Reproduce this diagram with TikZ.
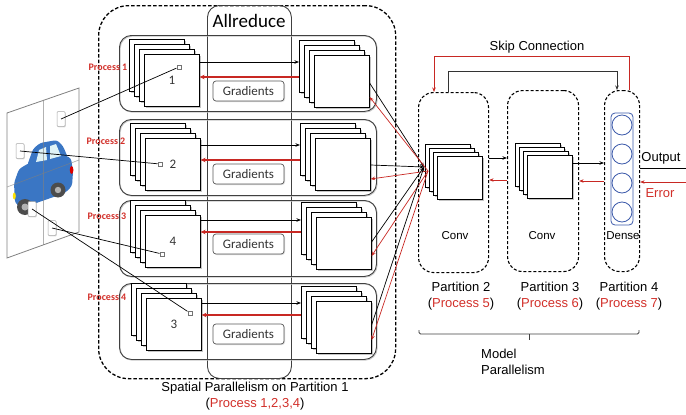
\documentclass[tikz,border=0pt]{standalone}
\usepackage{fontspec}
\setmainfont{Liberation Sans}
\newfontfamily\calibrifont{Carlito}
\usetikzlibrary{arrows.meta,shadows}

\definecolor{myred}{RGB}{200,40,35}
\definecolor{labred}{RGB}{210,48,42}
\definecolor{linegray}{RGB}{64,64,64}
\definecolor{carblue}{RGB}{58,118,196}
\definecolor{winlight}{RGB}{222,242,246}
\definecolor{denseblue}{RGB}{60,90,170}

% stack of four feature-map sheets: name, x, y (front top-left), width, height, step, text
\newcommand{\fmstack}[7]{%
  \foreach \k in {3,2,1}{%
    \node[sheet, minimum width=#4pt, minimum height=#5pt] (#1-\k) at ({#2-\k*#6},{#3-\k*#6}) {};
  }%
  \node[sheet, minimum width=#4pt, minimum height=#5pt] (#1) at (#2,#3) {#7};
}

\begin{document}
\begin{tikzpicture}[x=1pt,y=-1pt,
  sheet/.style={draw=black, fill=white, line width=0.6pt, inner sep=0pt, anchor=north west,
    font=\calibrifont\fontsize{13}{13}\selectfont, text=black!80,
    drop shadow={shadow xshift=1.2pt, shadow yshift=-1.2pt, fill=black!45}},
  rowbox/.style={draw=linegray, line width=0.9pt, rounded corners=12pt, inner sep=0pt, anchor=north west},
  spatialbox/.style={draw=black, line width=1.3pt, dash pattern=on 3.5pt off 2pt, rounded corners=30pt, inner sep=0pt, anchor=north west},
  arbox/.style={draw=linegray, line width=0.9pt, rounded corners=12pt, inner sep=0pt, anchor=north west},
  partbox/.style={draw=black, line width=1.1pt, dash pattern=on 3pt off 2pt, rounded corners=15pt, inner sep=0pt, anchor=north west},
  gradbox/.style={draw=black!65, fill=white, rounded corners=3pt, line width=0.7pt, minimum width=71pt, minimum height=20pt, inner sep=0pt,
    font=\calibrifont\fontsize{13}{13}\selectfont, text=black!80,
    drop shadow={shadow xshift=1pt, shadow yshift=-1pt, fill=black!30}},
  patch/.style={draw=black!35, fill=white, rounded corners=1pt, line width=0.5pt, inner sep=0pt, minimum width=8pt, minimum height=15pt,
    drop shadow={shadow xshift=0.8pt, shadow yshift=-0.8pt, fill=black!25}},
  marker/.style={draw=black!55, fill=white, line width=0.5pt, inner sep=0pt, minimum size=4.5pt,
    drop shadow={shadow xshift=0.7pt, shadow yshift=-0.7pt, fill=black!35}},
  proclabel/.style={font=\calibrifont\bfseries\fontsize{10}{10}\selectfont, text=labred},
  blkarrow/.style={draw=black, line width=0.7pt, -{Stealth[length=4.5pt,width=3.5pt]}},
  redarrow/.style={draw=myred, line width=1.8pt, -{Stealth[length=5pt,width=4.5pt]}},
  fanblk/.style={draw=black, line width=0.7pt, -{Stealth[length=4.5pt,width=3.5pt]}},
  fanred/.style={draw=myred, line width=0.7pt, -{Stealth[length=4.5pt,width=3.5pt]}},
  patchline/.style={draw=black, line width=0.7pt},
  txt/.style={font=\fontsize{13}{16}\selectfont, inner sep=0pt},
]
\useasboundingbox (0,0) rectangle (686,415);

% ---------------- spatial parallelism block ----------------
\node[spatialbox, minimum width=297pt, minimum height=373pt] (SP) at (98,5) {};
\node[arbox, minimum width=84pt, minimum height=373pt] (AR) at (207,5) {};
\node[font=\calibrifont\fontsize{19}{19}\selectfont] (ARt) at (249,21) {Allreduce};

\foreach \r/\top/\lx/\ly/\rx/\ry/\num/\bk/\rd/\gy in {
  1/35/144/54/314/55/1/62/77/91,
  2/119/145/138/315/138/2/145/160/174,
  3/200/145/215/316/217/4/220/232/244,
  4/283/146/298/316/301/3/303/315/334}{
  \draw[black!22, line width=0.9pt, rounded corners=12pt] (120.2,\top+1.2) rectangle (377.2,\top+77.2);
  \node[rowbox, minimum width=257pt, minimum height=76pt] (row\r) at (119,\top) {};
  \fmstack{L\r}{\lx}{\ly}{55}{52}{5}{\num}
  \fmstack{R\r}{\rx}{\ry}{55}{52}{5}{}
  \draw[blkarrow] (L\r.east |- 0,\bk) -- (R\r-3.west |- 0,\bk);
  \draw[redarrow] (R\r-3.west |- 0,\rd) -- (L\r.east |- 0,\rd);
  \node[gradbox] (G\r) at (248.5,\gy) {Gradients};
}

\node[proclabel] (pl1) at (108,67) {Process 1};
\node[proclabel] (pl2) at (106,141) {Process 2};
\node[proclabel] (pl3) at (107,216) {Process 3};
\node[proclabel] (pl4) at (107,297) {Process 4};

\node[txt, align=center] (SPlab) at (255,396) {Spatial Parallelism on Partition 1\\(\textcolor{labred}{Process 1,2,3,4})};

% ---------------- input image ----------------
\draw[black!50, fill=white, line width=0.8pt] (7,113) -- (79,88) -- (79,232) -- (7,258) -- cycle;
\begin{scope}[line join=round]
  \fill[carblue, rounded corners=3pt] (14,183) -- (19,169) -- (29,163) -- (64,155) -- (71,158) -- (73,172) -- (72,186) -- (65,193) -- (22,208) -- (15,203) -- cycle;
  \fill[carblue, rounded corners=3pt] (27,166) -- (33,149) -- (40,143) -- (57,140) -- (63,146) -- (68,158) -- cycle;
  \fill[winlight] (36,162) -- (39,150) -- (46,147) -- (47,160) -- cycle;
  \fill[winlight] (50,159) -- (50,146) -- (56,144) -- (61,156) -- cycle;
  \fill[red!85!black] (71.6,170) ellipse [x radius=1.8pt, y radius=4pt];
  \fill[yellow!85!orange] (14.3,196) ellipse [x radius=1.5pt, y radius=3.5pt];
  \fill[black!70] (25,207) circle [radius=8pt];
  \fill[black!30] (25,207) circle [radius=3.5pt];
  \fill[black!70] (58,190) circle [radius=7.5pt];
  \fill[black!30] (58,190) circle [radius=3.2pt];
\end{scope}
\draw[black!50, line width=0.7pt, opacity=0.6] (43,100.5) -- (43,245);
\draw[black!50, line width=0.7pt, opacity=0.6] (7,187) -- (79,160);

\node[patch] (p1) at (61,119) {};
\node[patch] (p2) at (20,151) {};
\node[patch] (p4) at (32,209) {};
\node[patch] (p3) at (52,228) {};

\node[marker] (m1) at (179,67) {};
\node[marker] (m2) at (160,164) {};
\node[marker] (m3) at (162,254) {};
\node[marker] (m4) at (190,313) {};

\foreach \r in {1,2,3,4}{
  \draw[patchline] (p\r.center) -- (m\r);
}

% ---------------- model parallel partitions ----------------
\node[partbox, minimum width=70pt, minimum height=180pt] (P2) at (418,92) {};
\node[partbox, minimum width=71pt, minimum height=181pt] (P3) at (507,90) {};
\node[partbox, minimum width=35pt, minimum height=181pt] (P4) at (604,90) {};

\fmstack{C2}{437}{156}{45}{43}{4}{}
\fmstack{C3}{527}{155}{45}{43}{4}{}

\node[draw=denseblue, line width=0.8pt, rounded corners=4pt, minimum width=22pt, minimum height=112pt, inner sep=0pt] (D) at (622,169) {};
\foreach \i/\cy in {1/125,2/154,3/183,4/212}{
  \node[circle, draw=denseblue, line width=0.8pt, minimum size=20pt, inner sep=0pt] (n\i) at (622,\cy) {};
}

\node[font=\fontsize{11.5}{12}\selectfont] (cv2) at (455,236) {Conv};
\node[font=\fontsize{11.5}{12}\selectfont] (cv3) at (542,236) {Conv};
\node[font=\fontsize{11.5}{12}\selectfont] (dn) at (623,236) {Dense};

% fan-in / fan-out between the spatial block and partition 2
\coordinate (cin) at (424,167);
\coordinate (cout) at (428,171);
\foreach \r/\fb/\fr in {1/83/97, 2/165/179, 3/242/256, 4/325/340}{
  \draw[fanblk] (R\r.east |- 0,\fb) -- (cin);
  \draw[fanred] (cout) -- (R\r.east |- 0,\fr);
}

% forward / backward between partitions
\draw[fanblk] (P2.east |- 0,158) -- (P3.west |- 0,158);
\draw[fanred] (P3.west |- 0,180) -- (P2.east |- 0,180);
\draw[fanblk] (C3.east |- 0,163) -- (P4.west |- 0,163);
\draw[fanred] (P4.west |- 0,181) -- (P3.east |- 0,181);

% skip connection
\draw[fanblk, draw=black!80] (P2.north -| 448,0) -- (448,71) -- (617,71) -- (P4.north -| 617,0);
\draw[fanred] (P4.north -| 629,0) -- (629,56) -- (434,56) -- (P2.north -| 434,0);
\node[txt] (skip) at (537,47) {Skip Connection};

% output and error
\coordinate (outend) at (686,168);
\coordinate (errstart) at (686,182);
\draw[black, line width=0.7pt] (P4.east |- 0,168) -- (outend);
\draw[fanred] (errstart) -- (P4.east |- 0,182);
\node[txt] (outlab) at (661,158) {Output};
\node[txt, text=labred] (errlab) at (660,193) {Error};

% partition captions
\node[txt, align=center] (cap2) at (461,296) {Partition 2\\(\textcolor{labred}{Process 5})};
\node[txt, align=center] (cap3) at (550,296) {Partition 3\\(\textcolor{labred}{Process 6})};
\node[txt, align=center] (cap4) at (629,296) {Partition 4\\(\textcolor{labred}{Process 7})};

% brace for model parallelism
\draw[linegray, line width=0.9pt, rounded corners=1.5pt] (419,330) -- (419,334) -- (639,334) -- (639,330);
\draw[linegray, line width=0.9pt] (529,334) -- (529,340);
\node[txt, align=left, anchor=west] (mp) at (481,362) {Model\\Parallelism};

\end{tikzpicture}
\end{document}
